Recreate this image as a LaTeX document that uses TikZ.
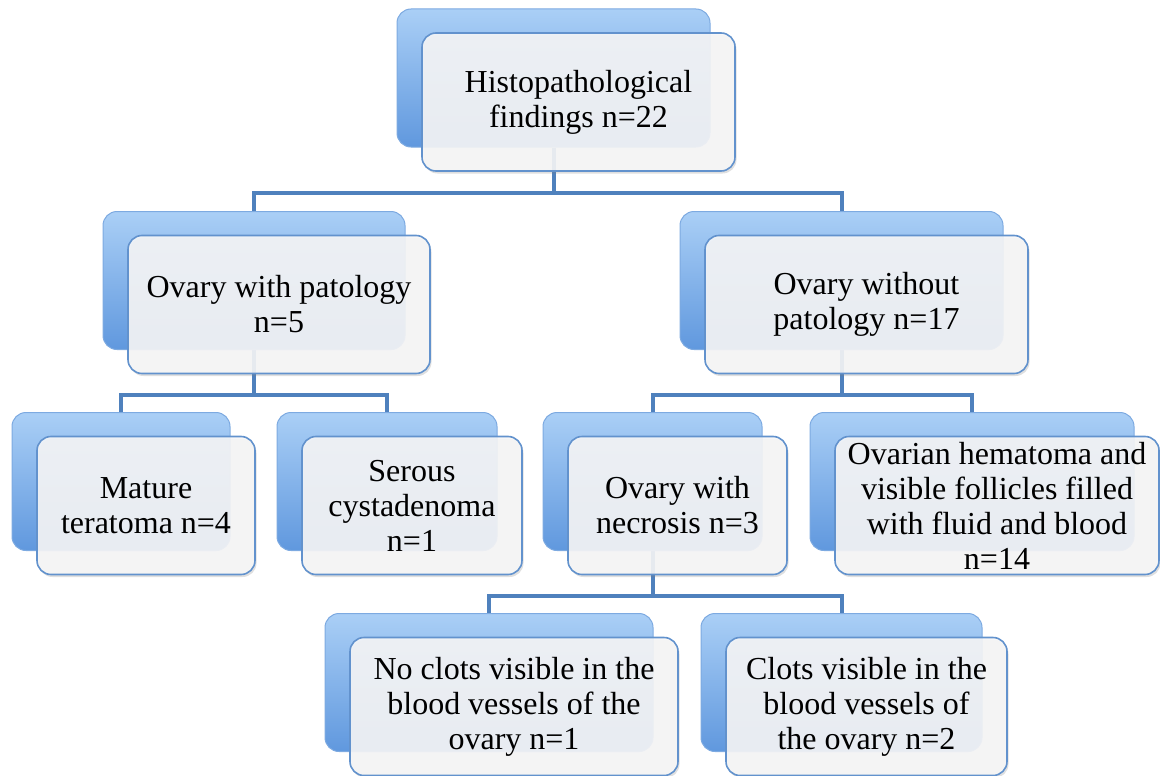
\documentclass[tikz,border=0pt]{standalone}
\usepackage{fontspec}
\setmainfont{Liberation Serif}
\usepackage{xcolor}
\usepackage{tikz}
\usetikzlibrary{positioning,backgrounds,shadows}

\definecolor{linkblue}{RGB}{79,129,189}
\definecolor{boxtop}{RGB}{170,207,246}
\definecolor{boxmid}{RGB}{122,174,236}
\definecolor{boxbot}{RGB}{96,152,222}
\definecolor{boxedge}{RGB}{125,170,225}
\definecolor{cardfill}{RGB}{246,246,247}
\definecolor{cardedge}{RGB}{98,146,205}

\begin{document}
\begin{tikzpicture}[
    x=1pt, y=-1pt,
    font=\fontsize{32}{35}\selectfont,
    backbox/.style = {rectangle, rounded corners=14pt, draw=boxedge, line width=1pt, top color=boxtop, middle color=boxmid, bottom color=boxbot, minimum height=138pt, minimum width=#1},
    frontbox/.style = {rectangle, rounded corners=14pt, draw=cardedge, line width=1.6pt, fill=cardfill, fill opacity=0.9, text opacity=1, align=center, inner sep=0pt, minimum height=138pt, minimum width=#1, drop shadow={opacity=0.25, shadow xshift=1.5pt, shadow yshift=-2.5pt}},
    line/.style = {draw=linkblue, line width=4pt}
]
\useasboundingbox (0,0) rectangle (1160,776);

% back boxes
\node[backbox=313pt] (rootb) at (553.5,78) {};
\node[backbox=302pt] (withb) at (254,280.5) {};
\node[backbox=323pt] (withoutb) at (841.5,280.5) {};
\node[backbox=218pt] (teratomab) at (121,481.5) {};
\node[backbox=220pt] (serousb) at (387,481.5) {};
\node[backbox=219pt] (necrosisb) at (652.5,481.5) {};
\node[backbox=324pt] (hematomab) at (972,481.5) {};
\node[backbox=328pt] (noclotsb) at (489,682.5) {};
\node[backbox=281pt] (clotsb) at (841.5,682.5) {};

% front boxes
\node[frontbox=313pt] (root) at ([shift={(25,24)}]rootb) {Histopathological\\findings n=22};
\node[frontbox=302pt] (with) at ([shift={(25,24)}]withb) {Ovary with patology\\n=5};
\node[frontbox=323pt] (without) at ([shift={(25,24)}]withoutb) {Ovary without\\patology n=17};
\node[frontbox=218pt] (teratoma) at ([shift={(25,24)}]teratomab) {Mature\\teratoma n=4};
\node[frontbox=220pt] (serous) at ([shift={(25,24)}]serousb) {Serous\\cystadenoma\\n=1};
\node[frontbox=219pt] (necrosis) at ([shift={(25,24)}]necrosisb) {Ovary with\\necrosis n=3};
\node[frontbox=324pt] (hematoma) at ([shift={(25,24)}]hematomab) {Ovarian hematoma and\\visible follicles filled\\with fluid and blood\\n=14};
\node[frontbox=328pt] (noclots) at ([shift={(25,24)}]noclotsb) {No clots visible in the\\blood vessels of the\\ovary n=1};
\node[frontbox=281pt] (clots) at ([shift={(25,24)}]clotsb) {Clots visible in the\\blood vessels of\\the ovary n=2};

% connectors
\begin{scope}[on background layer]
\path[line] (rootb.south) -- ++(0,45) -| (withb.north);
\path[line] (rootb.south) -- ++(0,45) -| (withoutb.north);
\path[line] (withb.south) -- ++(0,45) -| (teratomab.north);
\path[line] (withb.south) -- ++(0,45) -| (serousb.north);
\path[line] (withoutb.south) -- ++(0,45) -| (necrosisb.north);
\path[line] (withoutb.south) -- ++(0,45) -| (hematomab.north);
\path[line] (necrosisb.south) -- ++(0,45) -| (noclotsb.north);
\path[line] (necrosisb.south) -- ++(0,45) -| (clotsb.north);
\end{scope}
\end{tikzpicture}
\end{document}
